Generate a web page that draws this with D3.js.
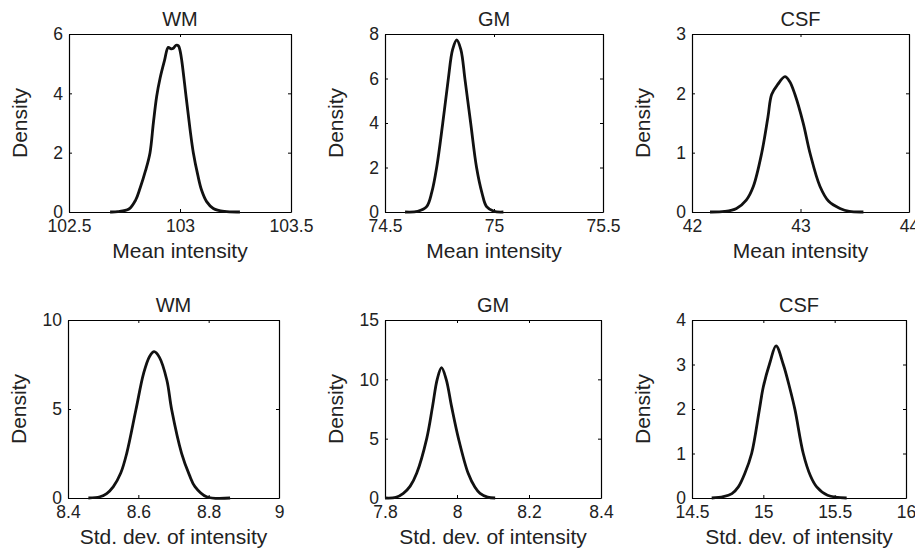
<!DOCTYPE html>
<html>
<head>
<meta charset="utf-8">
<script src="https://cdn.jsdelivr.net/npm/d3@7"></script>
<style>
  html, body { margin: 0; padding: 0; background: #fff; }
  svg { display: block; font-family: "Liberation Sans", Arial, sans-serif; }
</style>
</head>
<body>
<svg id="chart" width="915" height="553"></svg>
<script>
// ---------- DATA ----------
const titles = ["WM", "GM", "CSF", "WM", "GM", "CSF"];
const xLabels = ["Mean intensity", "Mean intensity", "Mean intensity",
                 "Std. dev. of intensity", "Std. dev. of intensity", "Std. dev. of intensity"];
const yLabel = "Density";

const xDomains = [[102.5, 103.5], [74.5, 75.5], [42, 44], [8.4, 9], [7.8, 8.4], [14.5, 16]];
const yDomains = [[0, 6], [0, 8], [0, 3], [0, 10], [0, 15], [0, 4]];

const xTicks = [
  [102.5, 103, 103.5],
  [74.5, 75, 75.5],
  [42, 43, 44],
  [8.4, 8.6, 8.8, 9],
  [7.8, 8, 8.2, 8.4],
  [14.5, 15, 15.5, 16]
];
const yTicks = [
  [0, 2, 4, 6],
  [0, 2, 4, 6, 8],
  [0, 1, 2, 3],
  [0, 5, 10],
  [0, 5, 10, 15],
  [0, 1, 2, 3, 4]
];

// density curves (x value, density)
const wmMeanX = [102.685, 102.72, 102.77, 102.8, 102.82, 102.845, 102.865, 102.88, 102.895, 102.91, 102.93, 102.947, 102.96, 102.97, 102.982, 102.993, 103.0, 103.008, 103.028, 103.045, 103.06, 103.08, 103.097, 103.12, 103.15, 103.2, 103.27];
const wmMeanY = [0, 0.01, 0.1, 0.4, 0.8, 1.4, 2.0, 3.0, 3.9, 4.5, 5.1, 5.55, 5.5, 5.52, 5.62, 5.6, 5.45, 5.1, 3.85, 2.8, 2.0, 1.25, 0.74, 0.35, 0.12, 0.02, 0];

const gmMeanX = [74.592, 74.65, 74.691, 74.715, 74.737, 74.765, 74.79, 74.81, 74.829, 74.848, 74.867, 74.893, 74.92, 74.945, 74.966, 75.0, 75.043];
const gmMeanY = [0, 0.03, 0.24, 0.9, 2.0, 4.0, 5.95, 7.3, 7.73, 7.3, 5.95, 4.0, 2.0, 0.85, 0.24, 0.03, 0];

const csfMeanX = [42.166, 42.3, 42.41, 42.5, 42.565, 42.642, 42.7, 42.734, 42.79, 42.857, 42.9, 42.949, 43.026, 43.088, 43.18, 43.26, 43.364, 43.45, 43.58];
const csfMeanY = [0, 0.01, 0.06, 0.2, 0.43, 0.99, 1.6, 1.98, 2.15, 2.28, 2.2, 1.98, 1.49, 0.99, 0.43, 0.18, 0.06, 0.01, 0];

const wmSdX = [8.458, 8.491, 8.51, 8.529, 8.55, 8.567, 8.593, 8.615, 8.632, 8.645, 8.66, 8.681, 8.695, 8.723, 8.745, 8.761, 8.794, 8.861];
const wmSdY = [0, 0.07, 0.25, 0.64, 1.4, 2.51, 4.94, 7.0, 7.95, 8.22, 7.9, 6.63, 4.94, 2.51, 1.3, 0.64, 0.07, 0];

const gmSdX = [7.8, 7.83, 7.851, 7.87, 7.888, 7.916, 7.932, 7.945, 7.957, 7.97, 7.985, 8.004, 8.031, 8.05, 8.064, 8.085, 8.106];
const gmSdY = [0, 0.05, 0.39, 1.0, 2.08, 5.03, 7.7, 10.0, 10.98, 10.0, 7.7, 5.03, 2.08, 0.9, 0.39, 0.08, 0];

const csfSdX = [14.638, 14.72, 14.78, 14.825, 14.87, 14.918, 14.972, 15.0, 15.047, 15.089, 15.14, 15.187, 15.222, 15.28, 15.33, 15.374, 15.45, 15.584];
const csfSdY = [0, 0.03, 0.1, 0.25, 0.55, 1.0, 1.98, 2.5, 3.05, 3.42, 3.0, 2.45, 1.98, 1.0, 0.5, 0.25, 0.06, 0];

const seriesX = [wmMeanX, gmMeanX, csfMeanX, wmSdX, gmSdX, csfSdX];
const seriesY = [wmMeanY, gmMeanY, csfMeanY, wmSdY, gmSdY, csfSdY];

// ---------- LAYOUT ----------
const panels = [
  { l: 69,  r: 291, t: 34,  b: 212 },
  { l: 385, r: 603, t: 34,  b: 212 },
  { l: 692, r: 909, t: 34,  b: 212 },
  { l: 68,  r: 279, t: 320, b: 498 },
  { l: 385, r: 601, t: 320, b: 498 },
  { l: 692, r: 906, t: 320, b: 498 }
];

const svg = d3.select("#chart");
const tickFont = 17.5, labelFont = 21, titleFont = 20;
const tickLen = 3;
const fmt = d => String(d);

panels.forEach((p, i) => {
  const x = d3.scaleLinear().domain(xDomains[i]).range([p.l, p.r]);
  const y = d3.scaleLinear().domain(yDomains[i]).range([p.b, p.t]);
  const g = svg.append("g");

  const xb = g.append("g").attr("transform", `translate(0,${p.b})`)
    .call(d3.axisBottom(x).tickValues(xTicks[i]).tickFormat(fmt).tickSizeInner(-tickLen).tickSizeOuter(0));
  const xt = g.append("g").attr("transform", `translate(0,${p.t})`)
    .call(d3.axisTop(x).tickValues(xTicks[i]).tickFormat("").tickSizeInner(-tickLen).tickSizeOuter(0));
  const yl = g.append("g").attr("transform", `translate(${p.l},0)`)
    .call(d3.axisLeft(y).tickValues(yTicks[i]).tickFormat(fmt).tickSizeInner(-tickLen).tickSizeOuter(0));
  const yr = g.append("g").attr("transform", `translate(${p.r},0)`)
    .call(d3.axisRight(y).tickValues(yTicks[i]).tickFormat("").tickSizeInner(-tickLen).tickSizeOuter(0));

  [xb, xt, yl, yr].forEach(a => {
    a.select(".domain").attr("stroke", "#000").attr("stroke-width", 1.2);
    a.selectAll(".tick line").attr("stroke", "#000").attr("stroke-width", 1);
    a.selectAll("text").attr("font-size", tickFont).attr("fill", "#222")
      .attr("font-family", "Liberation Sans, Arial, sans-serif");
  });
  xb.selectAll(".tick text").attr("y", 7).attr("dy", "0.72em");
  yl.selectAll(".tick text").attr("x", -6).attr("dy", "0.34em");

  const pts = seriesX[i].map((v, k) => [v, seriesY[i][k]]);
  const line = d3.line().x(d => x(d[0])).y(d => Math.min(y(d[1]), p.b)).curve(d3.curveCatmullRom.alpha(0.5));
  g.append("path").datum(pts).attr("d", line)
    .attr("fill", "none").attr("stroke", "#111").attr("stroke-width", 2.8)
    .attr("stroke-linejoin", "round");

  g.append("text").attr("x", (p.l + p.r) / 2).attr("y", p.t - 8)
    .attr("text-anchor", "middle").attr("font-size", titleFont).attr("fill", "#222")
    .text(titles[i]);
  g.append("text").attr("x", (p.l + p.r) / 2).attr("y", p.b + 46)
    .attr("text-anchor", "middle").attr("font-size", labelFont).attr("fill", "#222")
    .text(xLabels[i]);
  g.append("text")
    .attr("transform", `translate(${p.l - 42},${(p.t + p.b) / 2}) rotate(-90)`)
    .attr("text-anchor", "middle").attr("font-size", labelFont).attr("fill", "#222")
    .text(yLabel);
});
</script>
</body>
</html>
